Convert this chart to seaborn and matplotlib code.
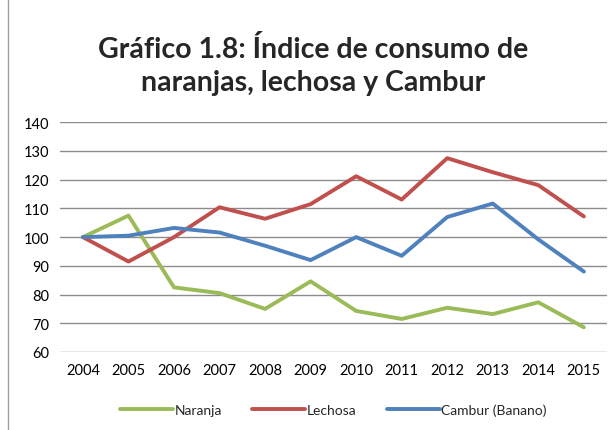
import pandas as pd
import matplotlib
matplotlib.use('Agg')
import matplotlib.pyplot as plt
import seaborn as sns
from matplotlib.patches import Rectangle

# Datos del gráfico
anios = [2004, 2005, 2006, 2007, 2008, 2009, 2010, 2011, 2012, 2013, 2014, 2015]
naranja = [100, 107.5, 82.5, 80.5, 75, 84.6, 74.3, 71.5, 75.4, 73.2, 77.3, 68.6]
lechosa = [100, 91.5, 100, 110.4, 106.4, 111.5, 121.2, 113.1, 127.5, 122.6, 118.1, 107.2]
cambur = [100, 100.5, 103.2, 101.6, 97, 92, 100, 93.5, 107, 111.7, 99.2, 88]

series = ['Naranja', 'Lechosa', 'Cambur (Banano)']
colores = ['#9BBB59', '#C0504D', '#4F81BD']

df = pd.DataFrame({'anio': [str(a) for a in anios],
                   'Naranja': naranja, 'Lechosa': lechosa, 'Cambur (Banano)': cambur})
df_largo = df.melt(id_vars='anio', var_name='serie', value_name='indice')

sns.set_style('white')
plt.rcParams['font.family'] = ['Lato', 'DejaVu Sans']

fig = plt.figure(figsize=(6.14, 4.31), dpi=100)
ax = fig.add_axes([0.098, 0.181, 0.89, 0.533])

sns.lineplot(data=df_largo, x='anio', y='indice', hue='serie', hue_order=series,
             palette=colores, linewidth=2.8, sort=False, ax=ax)

ax.set_ylim(60, 140)
ax.set_yticks(range(60, 141, 10))
ax.set_xlim(-0.5, len(anios) - 0.5)
ax.yaxis.grid(True, color='#8c8c8c', linewidth=1)
ax.set_axisbelow(True)
for s in ax.spines.values():
    s.set_visible(False)
ax.tick_params(axis='both', length=0, labelsize=10.5, colors='black', pad=8)
ax.set_xlabel('')
ax.set_ylabel('')

ax.legend(loc='upper center', bbox_to_anchor=(0.5, -0.17), ncol=3, frameon=False,
          fontsize=10, handlelength=3.8, handletextpad=0.1, columnspacing=2.2)

fig.text(0.51, 0.847, 'Gráfico 1.8: Índice de consumo de\nnaranjas, lechosa y Cambur',
         ha='center', va='center', fontsize=20.5, fontweight='bold', linespacing=1.3)

# marco del gráfico
fig.patches.append(Rectangle((0.013, -0.01), 1.0, 1.02, transform=fig.transFigure,
                             fill=False, edgecolor='#a0a0a0', linewidth=1))

fig.savefig('out.png', dpi=100)
